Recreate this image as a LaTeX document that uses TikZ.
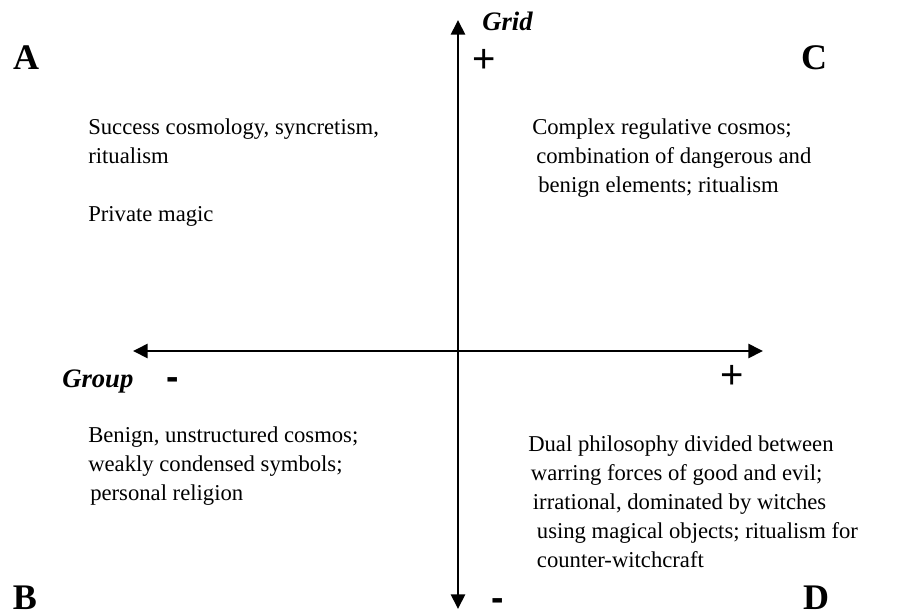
\documentclass[tikz,border=0pt]{standalone}
\usepackage{fontspec}
\setmainfont{Liberation Serif}
\newfontfamily\signfont{Liberation Sans}
\usetikzlibrary{arrows.meta}
\tikzset{
  gaxis/.style={line width=2pt,{Triangle[length=11pt,width=10.5pt]}-{Triangle[length=11pt,width=10.5pt]}},
  gtext/.style={anchor=base west,inner sep=0pt,align=left,font=\fontsize{17}{21.75}\selectfont},
  gcorner/.style={anchor=base,font=\fontsize{27}{27}\selectfont\bfseries,inner sep=0pt},
  gplus/.style={anchor=base,font=\signfont\fontsize{30}{30}\selectfont,inner sep=0pt},
  gminus/.style={anchor=base,font=\signfont\fontsize{28}{28}\selectfont\bfseries,inner sep=0pt},
  gname/.style={anchor=base west,font=\fontsize{20}{20}\selectfont\bfseries\itshape,inner sep=0pt},
}
\begin{document}
\begin{tikzpicture}[x=0.75pt,y=-0.75pt]
  \useasboundingbox (0,0) rectangle (900,611);
  % axes
  \coordinate (top) at (458,20);
  \coordinate (bottom) at (458,609);
  \coordinate (left) at (133,351);
  \coordinate (right) at (763,351);
  \draw[gaxis] (bottom) -- (top);
  \draw[gaxis] (left) -- (right);
  % axis names and signs
  \node[gname] (grid) at (482,30) {Grid};
  \node[gname] (group) at (62,387) {Group};
  \node[gplus] (gridplus) at (484,72) {+};
  \node[gminus] (gridminus) at (498,610) {-};
  \node[gminus] (groupminus) at (173,389) {-};
  \node[gplus] (groupplus) at (732,388) {+};
  % corners
  \node[gcorner] (A) at (26,69) {A};
  \node[gcorner] (B) at (25,609) {B};
  \node[gcorner] (C) at (814,69) {C};
  \node[gcorner] (D) at (816,609) {D};
  % quadrant texts (anchored at the last line)
  \node[gtext] (textA) at (88,221) {Success cosmology, syncretism,\\ ritualism\\[21.75pt] Private magic};
  \node[gtext] (textC) at (532,192) {Complex regulative cosmos;\\
    \hspace*{3pt}combination of dangerous and\\ \hspace*{4.5pt}benign elements; ritualism};
  \node[gtext] (textB) at (88,500) {Benign, unstructured cosmos;\\
    weakly condensed symbols;\\ \hspace*{1.5pt}personal religion};
  \node[gtext] (textD) at (528,567) {Dual philosophy divided between\\
    \hspace*{2pt}warring forces of good and evil;\\
    \hspace*{3.5pt}irrational, dominated by witches\\
    \hspace*{6.5pt}using magical objects; ritualism for\\
    \hspace*{6.5pt}counter-witchcraft};
\end{tikzpicture}
\end{document}
